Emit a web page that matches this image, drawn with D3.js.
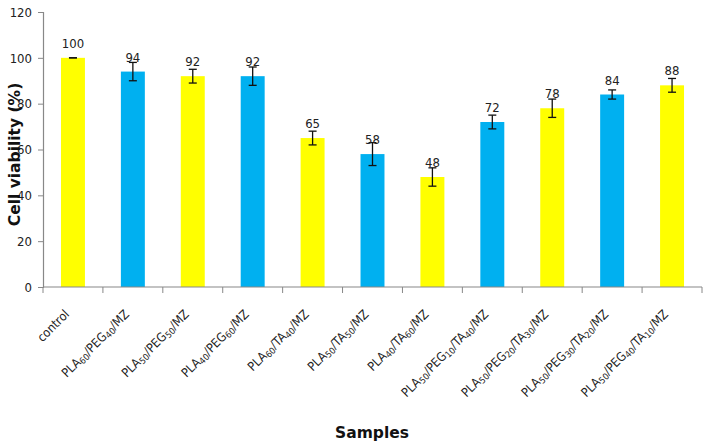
<!DOCTYPE html>
<html><head><meta charset="utf-8">
<script src="https://cdn.jsdelivr.net/npm/d3@7"></script>
<style>body{margin:0;background:#fff}svg{display:block}</style>
</head><body><svg id="c" width="708" height="446"></svg>
<script>
// Category labels as segments: [text, isSubscript]
const categories = [
  [["control",0]],
  [["PLA",0],["60",1],["/PEG",0],["40",1],["/MZ",0]],
  [["PLA",0],["50",1],["/PEG",0],["50",1],["/MZ",0]],
  [["PLA",0],["40",1],["/PEG",0],["60",1],["/MZ",0]],
  [["PLA",0],["60",1],["/TA",0],["40",1],["/MZ",0]],
  [["PLA",0],["50",1],["/TA",0],["50",1],["/MZ",0]],
  [["PLA",0],["40",1],["/TA",0],["60",1],["/MZ",0]],
  [["PLA",0],["50",1],["/PEG",0],["10",1],["/TA",0],["40",1],["/MZ",0]],
  [["PLA",0],["50",1],["/PEG",0],["20",1],["/TA",0],["30",1],["/MZ",0]],
  [["PLA",0],["50",1],["/PEG",0],["30",1],["/TA",0],["20",1],["/MZ",0]],
  [["PLA",0],["50",1],["/PEG",0],["40",1],["/TA",0],["10",1],["/MZ",0]]
];
const values = [100, 94, 92, 92, 65, 58, 48, 72, 78, 84, 88];
const errors = [0, 4, 3, 4, 3, 5, 4, 3, 4, 2, 3];
const colorKeys = ["y","b","y","b","y","b","y","b","y","b","y"];
const yTicks = [0, 20, 40, 60, 80, 100, 120];

const colors = {y:"#FFFF00", b:"#00B0F0"};
const FONT = "DejaVu Sans Condensed, DejaVu Sans, sans-serif";
const svg = d3.select("#c");
const m = {l:43, r:6, t:12, b:159};
const W = 708, H = 446;
const idx = values.map((d,i)=>i);
const x = d3.scaleBand().domain(idx).range([m.l, W-m.r]).paddingInner(0.6).paddingOuter(0.3);
const xb = d3.scaleBand().domain(idx).range([m.l, W-m.r]);
const y = d3.scaleLinear().domain([0,120]).range([H-m.b, m.t]);

// bars
svg.append("g").selectAll("rect").data(idx).join("rect")
  .attr("x", i=>x(i)).attr("width", x.bandwidth())
  .attr("y", i=>y(values[i])).attr("height", i=>y(0)-y(values[i]))
  .attr("fill", i=>colors[colorKeys[i]]);

// error bars
const eg = svg.append("g").attr("stroke","#111").attr("stroke-width",1.3);
idx.forEach(i=>{
  const cx = x(i)+x.bandwidth()/2;
  const t = y(values[i]+errors[i]), b = y(values[i]-errors[i]);
  eg.append("line").attr("x1",cx).attr("x2",cx).attr("y1",t).attr("y2",b);
  eg.append("line").attr("x1",cx-4).attr("x2",cx+4).attr("y1",t).attr("y2",t);
  eg.append("line").attr("x1",cx-4).attr("x2",cx+4).attr("y1",b).attr("y2",b);
});

// value labels
svg.append("g").selectAll("text").data(idx).join("text")
  .attr("x", i=>x(i)+x.bandwidth()/2).attr("y", i=>y(values[i])-10)
  .attr("text-anchor","middle").attr("font-family",FONT)
  .attr("font-size",13).attr("fill","#222").text(i=>values[i]);

// y axis
const ya = svg.append("g").attr("transform",`translate(${m.l},0)`)
  .call(d3.axisLeft(y).tickValues(yTicks).tickSize(5).tickPadding(6));
ya.select(".domain").attr("stroke","#888").attr("stroke-width",1.2);
ya.selectAll(".tick line").attr("stroke","#888");
ya.selectAll("text").attr("font-family",FONT).attr("font-size",13).attr("fill","#222");

// x axis baseline and ticks between categories
const xg = svg.append("g");
xg.append("line").attr("x1",m.l).attr("x2",W-m.r).attr("y1",y(0)).attr("y2",y(0)).attr("stroke","#888").attr("stroke-width",1.2);
const bounds = idx.map(i=>xb(i)).concat([xb(idx.length-1)+xb.bandwidth()]);
xg.selectAll("line.t").data(bounds).join("line").attr("class","t")
  .attr("x1",d=>d).attr("x2",d=>d).attr("y1",y(0)).attr("y2",y(0)+6).attr("stroke","#888");

// rotated category labels
const lg = svg.append("g");
idx.forEach(i=>{
  const cx = x(i)+x.bandwidth()/2 - 3;
  const t = lg.append("text")
    .attr("transform",`translate(${cx},${y(0)+28}) rotate(-45)`)
    .attr("text-anchor","end")
    .attr("font-family",FONT)
    .attr("font-size",12.5).attr("fill","#222");
  let shifted = false;
  categories[i].forEach(([s,sub])=>{
    const ts = t.append("tspan").text(s);
    if(sub){
      ts.attr("font-size",9);
      if(!shifted){ ts.attr("dy",2); shifted = true; }
    } else if(shifted){ ts.attr("dy",-2); shifted = false; }
  });
});

// axis titles
svg.append("text").attr("transform",`translate(20,${(y(0)+y(120))/2+5}) rotate(-90)`)
  .attr("text-anchor","middle").attr("font-family","DejaVu Sans, sans-serif")
  .attr("font-weight","bold").attr("font-size",15.5).attr("fill","#111").text("Cell viability (%)");
svg.append("text").attr("x",372).attr("y",438)
  .attr("text-anchor","middle").attr("font-family","DejaVu Sans, sans-serif")
  .attr("font-weight","bold").attr("font-size",15.5).attr("fill","#111").text("Samples");
</script></body></html>
